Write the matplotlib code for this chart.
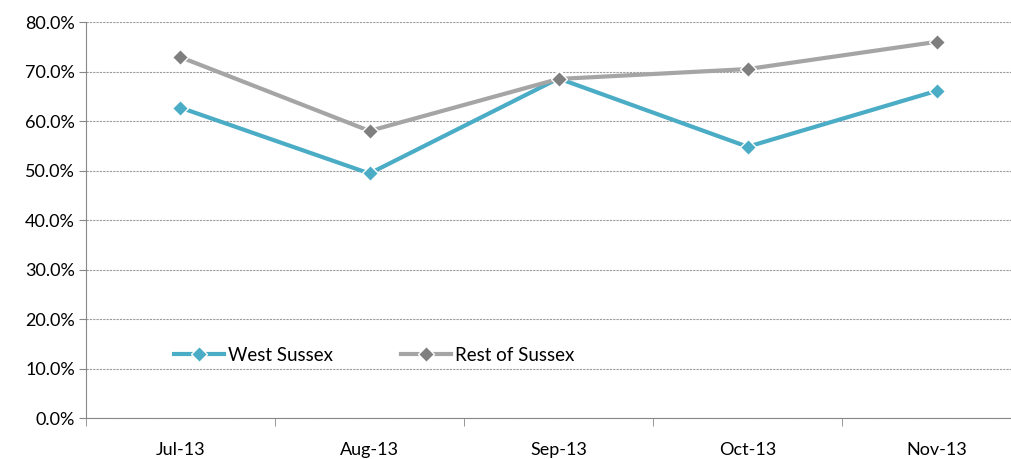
import matplotlib
matplotlib.use("Agg")
import matplotlib.pyplot as plt
from matplotlib.ticker import FuncFormatter

months = ["Jul-13", "Aug-13", "Sep-13", "Oct-13", "Nov-13"]
west_sussex = [62.7, 49.4, 68.6, 54.8, 66.1]
rest_of_sussex = [72.9, 58.0, 68.5, 70.5, 76.0]

plt.rcParams['font.family'] = ['Lato', 'DejaVu Sans']

fig = plt.figure(figsize=(10.11, 4.59), dpi=100)
ax = fig.add_axes([0.085, 0.0893, 0.935, 0.8627])

x = range(len(months))
ax.plot(x, west_sussex, color='#4BACC6', linewidth=3, marker='D', markersize=8,
        markerfacecolor='#4BACC6', markeredgecolor='white', markeredgewidth=1,
        label='West Sussex', zorder=3)
ax.plot(x, rest_of_sussex, color='#A5A5A5', linewidth=3, marker='D', markersize=8,
        markerfacecolor='#7F7F7F', markeredgecolor='white', markeredgewidth=1,
        label='Rest of Sussex', zorder=3)

ax.set_xlim(-0.5, len(months) - 0.5)
ax.set_ylim(0, 80)
ax.set_yticks(range(0, 81, 10))
ax.yaxis.set_major_formatter(FuncFormatter(lambda v, p: "%.1f%%" % v))
ax.set_xticks(list(x))
ax.set_xticklabels(months)
ax.set_xticks([i - 0.5 for i in range(len(months) + 1)], minor=True)
ax.tick_params(axis='x', which='major', length=0, pad=17, labelsize=13, colors='#000000')
ax.tick_params(axis='x', which='minor', length=6, color='#888888')
ax.tick_params(axis='y', length=5, color='#888888', labelsize=13, pad=3)

ax.grid(axis='y', linestyle=(0, (2, 1)), color='#999999', linewidth=0.8)
ax.set_axisbelow(True)
for side in ['top', 'right']:
    ax.spines[side].set_visible(False)
for side in ['left', 'bottom']:
    ax.spines[side].set_color('#888888')

ax.legend(loc='center left', bbox_to_anchor=(0.075, 0.158), ncol=2, frameon=False,
          fontsize=13.5, handlelength=2.7, handletextpad=0.2, columnspacing=3.6)

fig.savefig("out.png", dpi=100)
